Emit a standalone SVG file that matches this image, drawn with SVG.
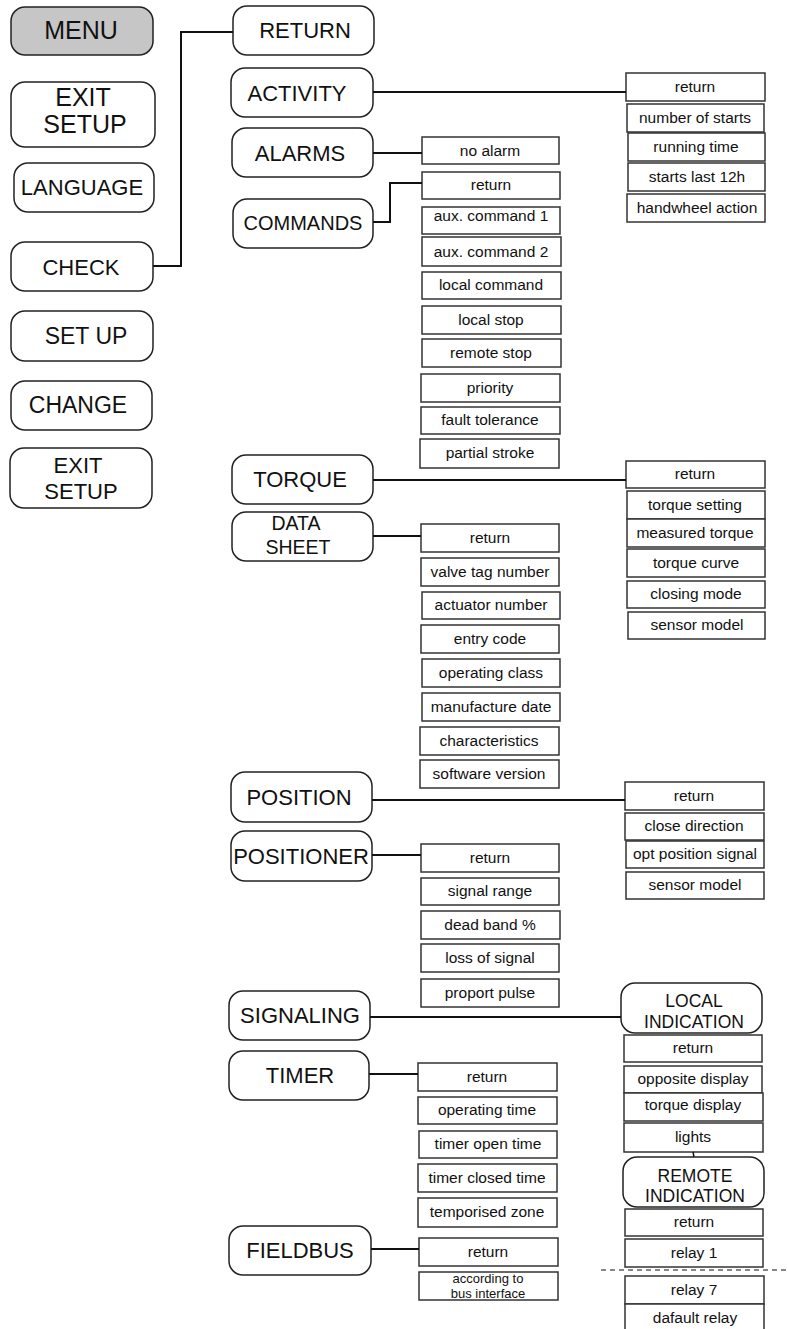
<svg xmlns="http://www.w3.org/2000/svg" width="787" height="1329" viewBox="0 0 787 1329">
<style>
text{font-family:"Liberation Sans",Arial,sans-serif;fill:#111;text-anchor:middle}
.n{fill:#fff;stroke:#222;stroke-width:1.5}
.menu{fill:#c6c6c6;stroke:#222;stroke-width:1.5}
.b{fill:#fff;stroke:#333;stroke-width:1.5}
.t22{font-size:22px}
.t23{font-size:23px}
.t25{font-size:25px}
.t20{font-size:20px}
.t19{font-size:19.5px}
.t17{font-size:17.5px}
.s{font-size:15.5px}
.xs{font-size:13px}
.c{fill:none;stroke:#111;stroke-width:2}
</style>
<rect width="787" height="1329" fill="#fff"/>

<!-- left menu -->
<g id="menu"><rect class="menu" x="11" y="7" width="142" height="48" rx="14"/><text class="t25" x="81" y="39">MENU</text></g>
<g id="exit-setup-1"><rect class="n" x="11" y="82" width="144" height="65" rx="14"/><text class="t25" x="83" y="106">EXIT</text><text class="t25" x="85" y="133">SETUP</text></g>
<g id="language"><rect class="n" x="14" y="163" width="140" height="49" rx="14"/><text class="t22" x="82" y="195">LANGUAGE</text></g>
<g id="check"><rect class="n" x="11" y="242" width="142" height="49" rx="14"/><text class="t22" x="81" y="275">CHECK</text></g>
<g id="set-up"><rect class="n" x="11" y="311" width="142" height="50" rx="14"/><text class="t23" x="86" y="344">SET UP</text></g>
<g id="change"><rect class="n" x="11" y="381" width="141" height="49" rx="14"/><text class="t23" x="78" y="413">CHANGE</text></g>
<g id="exit-setup-2"><rect class="n" x="10" y="448" width="142" height="60" rx="14"/><text class="t22" x="78" y="473">EXIT</text><text class="t22" x="81" y="499">SETUP</text></g>

<!-- check submenu -->
<g id="return"><rect class="n" x="233" y="6" width="141" height="49" rx="14"/><text class="t22" x="305" y="38">RETURN</text></g>
<g id="activity"><rect class="n" x="231" y="68" width="142" height="49" rx="14"/><text class="t22" x="297" y="101">ACTIVITY</text></g>
<g id="alarms"><rect class="n" x="232" y="128" width="141" height="49" rx="14"/><text class="t22" x="300" y="161">ALARMS</text></g>
<g id="commands"><rect class="n" x="233" y="199" width="140" height="49" rx="14"/><text class="t20" x="303" y="230">COMMANDS</text></g>
<g id="torque"><rect class="n" x="232" y="455" width="141" height="49" rx="14"/><text class="t22" x="300" y="487">TORQUE</text></g>
<g id="data-sheet"><rect class="n" x="232" y="512" width="141" height="49" rx="14"/><text class="t19" x="296" y="530">DATA</text><text class="t19" x="298" y="554">SHEET</text></g>
<g id="position"><rect class="n" x="231" y="772" width="141" height="50" rx="14"/><text class="t22" x="299" y="805">POSITION</text></g>
<g id="positioner"><rect class="n" x="231" y="831" width="141" height="50" rx="14"/><text class="t22" x="301" y="864">POSITIONER</text></g>
<g id="signaling"><rect class="n" x="229" y="991" width="141" height="49" rx="14"/><text class="t22" x="300" y="1023">SIGNALING</text></g>
<g id="timer"><rect class="n" x="229" y="1051" width="140" height="49" rx="14"/><text class="t22" x="300" y="1083">TIMER</text></g>
<g id="fieldbus"><rect class="n" x="229" y="1226" width="142" height="49" rx="14"/><text class="t22" x="300" y="1258">FIELDBUS</text></g>
<g id="local-indication"><rect class="n" x="621" y="983" width="141" height="50" rx="14"/><text class="t17" x="694" y="1007">LOCAL</text><text class="t17" x="694" y="1028">INDICATION</text></g>
<g id="remote-indication"><rect class="n" x="623" y="1157" width="141" height="50" rx="14"/><text class="t17" x="695" y="1182">REMOTE</text><text class="t17" x="695" y="1202">INDICATION</text></g>

<!-- alarms -->
<g id="alarms-items">
<rect class="b" x="422" y="137" width="137" height="27"/><text class="s" x="490" y="156">no alarm</text>
</g>
<!-- commands -->
<g id="commands-items">
<rect class="b" x="422" y="172" width="138" height="27"/><text class="s" x="491" y="190">return</text>
<rect class="b" x="422" y="207" width="138" height="27"/><text class="s" x="491" y="221">aux. command 1</text>
<rect class="b" x="422" y="237" width="139" height="29"/><text class="s" x="491" y="257">aux. command 2</text>
<rect class="b" x="422" y="272" width="139" height="27"/><text class="s" x="491" y="290">local command</text>
<rect class="b" x="422" y="306" width="139" height="28"/><text class="s" x="491" y="325">local stop</text>
<rect class="b" x="422" y="339" width="139" height="28"/><text class="s" x="491" y="358">remote stop</text>
<rect class="b" x="421" y="374" width="139" height="28"/><text class="s" x="490" y="393">priority</text>
<rect class="b" x="421" y="407" width="139" height="27"/><text class="s" x="490" y="425">fault tolerance</text>
<rect class="b" x="420" y="439" width="139" height="29"/><text class="s" x="490" y="458">partial stroke</text>
</g>
<!-- activity -->
<g id="activity-items">
<rect class="b" x="626" y="73" width="139" height="28"/><text class="s" x="695" y="92">return</text>
<rect class="b" x="627" y="104" width="137" height="28"/><text class="s" x="695" y="123">number of starts</text>
<rect class="b" x="628" y="133" width="137" height="28"/><text class="s" x="696" y="152">running time</text>
<rect class="b" x="628" y="163" width="137" height="28"/><text class="s" x="697" y="182">starts last 12h</text>
<rect class="b" x="627" y="194" width="138" height="28"/><text class="s" x="697" y="213">handwheel action</text>
</g>
<!-- torque -->
<g id="torque-items">
<rect class="b" x="626" y="461" width="139" height="27"/><text class="s" x="695" y="479">return</text>
<rect class="b" x="627" y="491" width="138" height="28"/><text class="s" x="695" y="510">torque setting</text>
<rect class="b" x="627" y="519" width="138" height="28"/><text class="s" x="695" y="538">measured torque</text>
<rect class="b" x="627" y="549" width="138" height="28"/><text class="s" x="696" y="568">torque curve</text>
<rect class="b" x="627" y="581" width="138" height="27"/><text class="s" x="696" y="599">closing mode</text>
<rect class="b" x="628" y="612" width="137" height="27"/><text class="s" x="697" y="630">sensor model</text>
</g>
<!-- data sheet -->
<g id="data-sheet-items">
<rect class="b" x="421" y="524" width="138" height="28"/><text class="s" x="490" y="543">return</text>
<rect class="b" x="421" y="558" width="138" height="28"/><text class="s" x="490" y="577">valve tag number</text>
<rect class="b" x="422" y="592" width="138" height="27"/><text class="s" x="491" y="610">actuator number</text>
<rect class="b" x="421" y="625" width="138" height="28"/><text class="s" x="490" y="644">entry code</text>
<rect class="b" x="422" y="659" width="138" height="28"/><text class="s" x="491" y="678">operating class</text>
<rect class="b" x="422" y="693" width="138" height="28"/><text class="s" x="491" y="712">manufacture date</text>
<rect class="b" x="420" y="727" width="139" height="28"/><text class="s" x="489" y="746">characteristics</text>
<rect class="b" x="420" y="760" width="139" height="28"/><text class="s" x="489" y="779">software version</text>
</g>
<!-- position -->
<g id="position-items">
<rect class="b" x="625" y="782" width="139" height="28"/><text class="s" x="694" y="801">return</text>
<rect class="b" x="625" y="813" width="139" height="27"/><text class="s" x="694" y="831">close direction</text>
<rect class="b" x="626" y="841" width="138" height="27"/><text class="s" x="695" y="859">opt position signal</text>
<rect class="b" x="626" y="872" width="138" height="27"/><text class="s" x="695" y="890">sensor model</text>
</g>
<!-- positioner -->
<g id="positioner-items">
<rect class="b" x="421" y="844" width="138" height="28"/><text class="s" x="490" y="863">return</text>
<rect class="b" x="421" y="878" width="138" height="27"/><text class="s" x="490" y="896">signal range</text>
<rect class="b" x="421" y="911" width="139" height="28"/><text class="s" x="490" y="930">dead band %</text>
<rect class="b" x="421" y="944" width="138" height="28"/><text class="s" x="490" y="963">loss of signal</text>
<rect class="b" x="421" y="979" width="138" height="28"/><text class="s" x="490" y="998">proport pulse</text>
</g>
<!-- timer -->
<g id="timer-items">
<rect class="b" x="418" y="1063" width="139" height="28"/><text class="s" x="487" y="1082">return</text>
<rect class="b" x="418" y="1097" width="139" height="27"/><text class="s" x="487" y="1115">operating time</text>
<rect class="b" x="419" y="1131" width="138" height="27"/><text class="s" x="488" y="1149">timer open time</text>
<rect class="b" x="418" y="1164" width="139" height="28"/><text class="s" x="487" y="1183">timer closed time</text>
<rect class="b" x="418" y="1198" width="139" height="29"/><text class="s" x="487" y="1217">temporised zone</text>
</g>
<!-- fieldbus -->
<g id="fieldbus-items">
<rect class="b" x="419" y="1238" width="139" height="28"/><text class="s" x="488" y="1257">return</text>
<rect class="b" x="419" y="1272" width="139" height="28"/><text class="xs" x="488" y="1283">according to</text><text class="xs" x="488" y="1298">bus interface</text>
</g>
<!-- local indication -->
<g id="local-indication-items">
<rect class="b" x="624" y="1035" width="138" height="27"/><text class="s" x="693" y="1053">return</text>
<rect class="b" x="624" y="1066" width="138" height="27"/><text class="s" x="693" y="1084">opposite display</text>
<rect class="b" x="624" y="1093" width="139" height="28"/><text class="s" x="693" y="1110">torque display</text>
<rect class="b" x="624" y="1123" width="139" height="29"/><text class="s" x="693" y="1142">lights</text>
</g>
<!-- remote indication -->
<g id="remote-indication-items">
<rect class="b" x="625" y="1209" width="138" height="27"/><text class="s" x="694" y="1227">return</text>
<rect class="b" x="625" y="1239" width="138" height="28"/><text class="s" x="694" y="1258">relay 1</text>
<rect class="b" x="625" y="1276" width="139" height="28"/><text class="s" x="694" y="1295">relay 7</text>
<path class="b" d="M625,1330 V1304 H764 V1330"/><text class="s" x="695" y="1323">dafault relay</text>
</g>

<g id="connectors">
<path class="c" d="M153,266 H181 V32 H233"/>
<path class="c" d="M373,92 H626"/>
<path class="c" d="M373,153 H422"/>
<path class="c" d="M373,222 H390 V183 H422"/>
<path class="c" d="M373,480 H626"/>
<path class="c" d="M373,536 H421"/>
<path class="c" d="M372,800 H625"/>
<path class="c" d="M372,855 H421"/>
<path class="c" d="M370,1017 H621"/>
<path class="c" d="M369,1074 H418"/>
<path class="c" d="M371,1249 H419"/>
<path fill="none" stroke="#111" stroke-width="1.5" d="M693,1152 L694,1157"/>
<path fill="none" stroke="#111" stroke-width="1.2" stroke-dasharray="5,4" d="M601,1270 H787"/>
</g>
</svg>
